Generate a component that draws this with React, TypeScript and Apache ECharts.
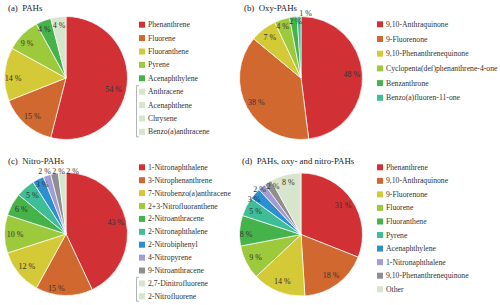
import React, { useEffect, useRef } from 'react';
import * as echarts from 'echarts';

const FONT = '"Liberation Serif", "Times New Roman", Times, serif';

// colours
const RED = '#d13135';
const ORANGE = '#d0682f';
const YELLOW = '#d4c936';
const LIME = '#9dc93d';
const GREEN = '#45b34a';
const TEAL = '#3ebd97';
const BLUE = '#2c90d0';
const PURPLE = '#a29bd4';
const GRAY = '#8f8f8f';
const LIGHT = '#d6e5cc';

// (a) PAHs
const pahTitle = '(a)  PAHs';
const pahSlices = ['Phenanthrene', 'Fluorene', 'Fluoranthene', 'Pyrene', 'Acenaphthylene', 'Other PAHs'];
const pahValues = [54, 15, 14, 9, 4, 4];
const pahColors = [RED, ORANGE, YELLOW, LIME, GREEN, LIGHT];
const pahLegend = ['Phenanthrene', 'Fluorene', 'Fluoranthene', 'Pyrene', 'Acenaphthylene', 'Anthracene', 'Acenaphthene', 'Chrysene', 'Benzo(a)anthracene'];
const pahLegendColors = [RED, ORANGE, YELLOW, LIME, GREEN, LIGHT, LIGHT, LIGHT, LIGHT];

// (b) Oxy-PAHs
const oxyTitle = '(b)  Oxy-PAHs';
const oxySlices = ['9,10-Anthraquinone', '9-Fluorenone', '9,10-Phenanthrenequinone', 'Cyclopenta(def)phenanthrene-4-one', 'Benzanthrone', 'Benzo(a)fluoren-11-one'];
const oxyValues = [48, 38, 7, 4, 2, 1];
const oxyColors = [RED, ORANGE, YELLOW, LIME, GREEN, TEAL];
const oxyLegend = oxySlices;
const oxyLegendColors = oxyColors;

// (c) Nitro-PAHs
const nitroTitle = '(c)  Nitro-PAHs';
const nitroSlices = ['1-Nitronaphthalene', '3-Nitrophenanthrene', '7-Nitrobenzo(a)anthracene', '2+3-Nitrofluoranthene', '2-Nitroanthracene', '2-Nitronaphthalene', '2-Nitrobiphenyl', '4-Nitropyrene', '9-Nitroanthracene', 'Other nitro-PAHs'];
const nitroValues = [43, 15, 12, 10, 6, 5, 3, 2, 2, 2];
const nitroColors = [RED, ORANGE, YELLOW, LIME, GREEN, TEAL, BLUE, PURPLE, GRAY, LIGHT];
const nitroLegend = ['1-Nitronaphthalene', '3-Nitrophenanthrene', '7-Nitrobenzo(a)anthracene', '2+3-Nitrofluoranthene', '2-Nitroanthracene', '2-Nitronaphthalene', '2-Nitrobiphenyl', '4-Nitropyrene', '9-Nitroanthracene', '2,7-Dinitrofluorene', '2-Nitrofluorene'];
const nitroLegendColors = [RED, ORANGE, YELLOW, LIME, GREEN, TEAL, BLUE, PURPLE, GRAY, LIGHT, LIGHT];

// (d) all
const allTitle = '(d)  PAHs, oxy- and nitro-PAHs';
const allSlices = ['Phenanthrene', '9,10-Anthraquinone', '9-Fluorenone', 'Fluorene', 'Fluoranthene', 'Pyrene', 'Acenaphthylene', '1-Nitronaphthalene', '9,10-Phenanthrenequinone', 'Other'];
const allValues = [31, 18, 14, 9, 8, 5, 3, 2, 2, 8];
const allColors = [RED, ORANGE, YELLOW, LIME, GREEN, TEAL, BLUE, PURPLE, GRAY, LIGHT];
const allLegend = allSlices;
const allLegendColors = allColors;

const R = 61.5;

type Pt = Record<number, number[]>;

const panels = [
  {
    title: pahTitle, tx: 8, ty: 3, names: pahSlices, values: pahValues, colors: pahColors,
    legend: pahLegend, legendColors: pahLegendColors, cx: 66, cy: 78,
    lx: 139, ly: 24.7, step: 13.4, bracket: [5, 8],
    offsets: { 0: [-3, 5], 2: [-2, 4], 3: [-3, 2], 4: [-3, -1] } as Pt,
    abs: { 5: [59, 25] } as Pt,
  },
  {
    title: oxyTitle, tx: 244, ty: 3, names: oxySlices, values: oxyValues, colors: oxyColors,
    legend: oxyLegend, legendColors: oxyLegendColors, cx: 301, cy: 78,
    lx: 377, ly: 24.3, step: 14.7, bracket: null,
    offsets: {} as Pt,
    abs: { 3: [282.5, 26.5], 4: [295.5, 21.5], 5: [305.5, 13.5] } as Pt,
  },
  {
    title: nitroTitle, tx: 8, ty: 156.5, names: nitroSlices, values: nitroValues, colors: nitroColors,
    legend: nitroLegend, legendColors: nitroLegendColors, cx: 66, cy: 234,
    lx: 139, ly: 167.3, step: 12.9, bracket: [9, 10],
    offsets: { 1: [-8, 4] } as Pt,
    abs: { 6: [42, 184.5], 7: [44.5, 171], 8: [58.5, 171], 9: [72.5, 171] } as Pt,
  },
  {
    title: allTitle, tx: 242, ty: 156.5, names: allSlices, values: allValues, colors: allColors,
    legend: allLegend, legendColors: allLegendColors, cx: 301, cy: 234.5,
    lx: 377, ly: 167.3, step: 13.55, bracket: null,
    offsets: { 4: [-4, 3], 9: [0, -3] } as Pt,
    abs: { 6: [254, 199.5], 7: [259.5, 189.5], 8: [273, 186.5] } as Pt,
  },
];

export default function App() {
  const ref = useRef<HTMLDivElement>(null);

  useEffect(() => {
    document.body.style.margin = '0';
    if (!ref.current) return;
    const chart = echarts.init(ref.current, null, { renderer: 'svg' });

    const series: any[] = [];
    const titles: any[] = [];
    const graphics: any[] = [];

    panels.forEach((p) => {
      const data = p.names.map((n, i) => ({ name: n, value: p.values[i], itemStyle: { color: p.colors[i] } }));
      series.push({
        type: 'pie',
        center: [p.cx, p.cy],
        radius: [0, R],
        startAngle: 90,
        clockwise: true,
        silent: true,
        label: { show: false },
        labelLine: { show: false },
        itemStyle: { borderColor: '#ffffff', borderWidth: 0.7 },
        data,
      });
      series.push({
        type: 'pie',
        center: [p.cx, p.cy],
        radius: [R * 0.56, R],
        startAngle: 90,
        clockwise: true,
        silent: true,
        avoidLabelOverlap: false,
        z: 5,
        itemStyle: { color: 'rgba(0,0,0,0)', borderWidth: 0 },
        label: {
          show: true,
          position: 'inside',
          formatter: (prm: any) => `${prm.value} %`,
          fontFamily: FONT,
          fontSize: 8,
          color: '#333333',
        },
        labelLine: { show: false },
        labelLayout: (prm: any) => {
          const a = p.abs[prm.dataIndex];
          if (a) return { x: a[0], y: a[1] };
          const o = p.offsets[prm.dataIndex];
          return o ? { dx: o[0], dy: o[1] } : {};
        },
        data: p.names.map((n, i) => ({ name: n, value: p.values[i] })),
      });
      titles.push({
        text: p.title,
        left: p.tx,
        top: p.ty,
        padding: 0,
        textStyle: { fontFamily: FONT, fontSize: 8.8, fontWeight: 'normal', color: '#222222' },
      });
      p.legend.forEach((name, i) => {
        const y = p.ly + i * p.step;
        graphics.push({
          type: 'rect',
          shape: { x: p.lx, y: y - 3, width: 6, height: 6 },
          style: { fill: p.legendColors[i] },
          silent: true,
        });
        graphics.push({
          type: 'text',
          x: p.lx + 9,
          y,
          style: { text: name, fill: '#333333', fontFamily: FONT, fontSize: 7.7, verticalAlign: 'middle', align: 'left' },
          silent: true,
        });
      });
      if (p.bracket) {
        const y1 = p.ly + p.bracket[0] * p.step - 6;
        const y2 = p.ly + p.bracket[1] * p.step + 5;
        const bx = p.lx - 2.5;
        graphics.push({
          type: 'polyline',
          shape: { points: [[bx + 2.5, y1], [bx, y1], [bx, y2], [bx + 2.5, y2]] },
          style: { stroke: '#a0a0a0', lineWidth: 0.8, fill: 'none' },
          silent: true,
        });
      }
    });

    chart.setOption({
      animation: false,
      backgroundColor: '#ffffff',
      title: titles,
      series,
      graphic: graphics,
    });

    return () => chart.dispose();
  }, []);

  return <div ref={ref} style={{ position: 'fixed', left: 0, top: 0, width: 500, height: 305 }} />;
}
